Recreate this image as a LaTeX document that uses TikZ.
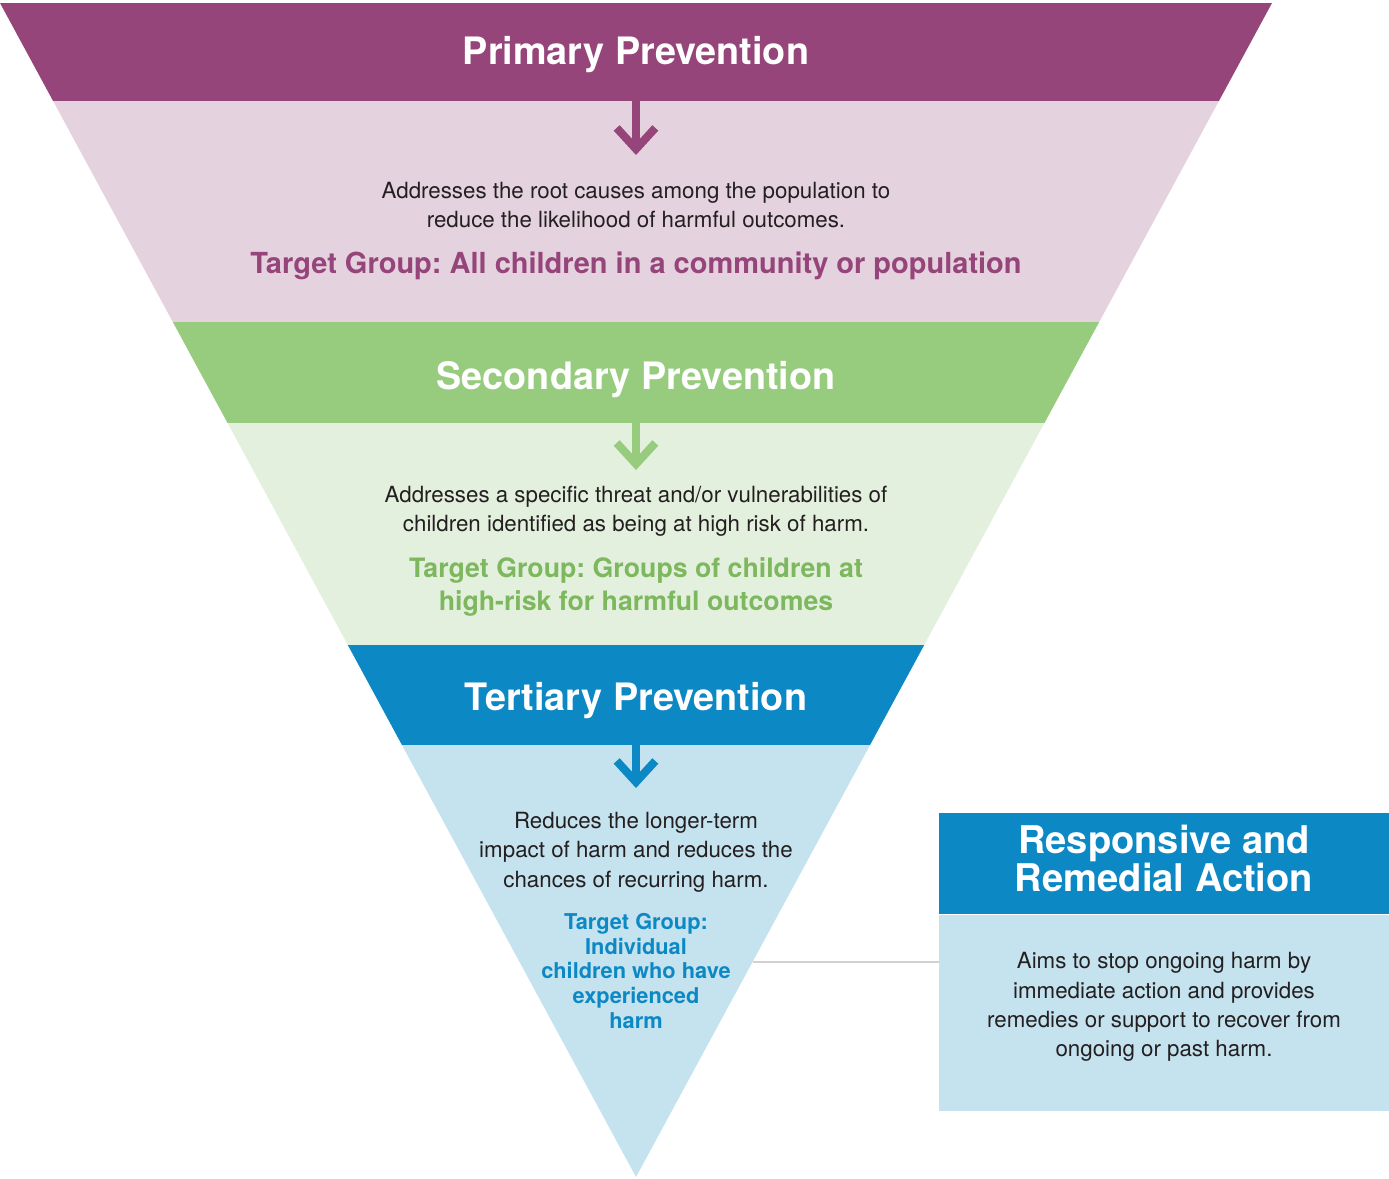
\documentclass[tikz,border=0pt]{standalone}
\usepackage{fontspec}
\setmainfont{TeX Gyre Heros}
\usetikzlibrary{positioning,arrows.meta}
\definecolor{primdark}{HTML}{96457A}
\definecolor{primlight}{HTML}{E5D2DF}
\definecolor{secdark}{HTML}{97CC7F}
\definecolor{seclight}{HTML}{E4F0DE}
\definecolor{secgroup}{HTML}{7DB75E}
\definecolor{tertdark}{HTML}{0C88C4}
\definecolor{tertlight}{HTML}{C5E2EF}
\definecolor{bodygray}{HTML}{231F20}
\frenchspacing
\begin{document}
\begin{tikzpicture}[x=0.02cm,y=-0.02cm]
\tikzstyle{headtext}=[text=white,font=\fontsize{21.5}{22}\selectfont\bfseries,inner sep=0pt]
\tikzstyle{bodytext}=[text=bodygray,font=\fontsize{12.7}{16.7}\selectfont,align=center,inner sep=0pt]
\tikzstyle{grouptext}=[font=\fontsize{16.5}{18.7}\selectfont\bfseries,align=center,inner sep=0pt]
\tikzstyle{smallgroup}=[font=\fontsize{12.4}{14.2}\selectfont\bfseries,align=center,inner sep=0pt]
\tikzstyle{downarrow}=[line width=4.6pt,-{Straight Barb[length=12pt,width=22pt]}]
\tikzstyle{linkline}=[draw=black!18,line width=0.6pt]
\tikzstyle{respbox}=[fill=tertdark,text=white,minimum width=9cm,minimum height=2.02cm,align=center,inner sep=0pt,text depth=6pt,font=\fontsize{21.7}{21.5}\selectfont\bfseries]
\tikzstyle{respbodybox}=[fill=tertlight,text=bodygray,minimum width=9cm,minimum height=3.92cm,align=center,inner sep=0pt,text depth=9pt,font=\fontsize{12.7}{16.7}\selectfont]
\useasboundingbox (0,0) rectangle (1389,1178);

% the inverted triangle, cut into bands
\begin{scope}
\clip (0,3) -- (1272,3) -- (636,1177) -- cycle;
\fill[primdark] (0,3) rectangle (1272,101);
\fill[primlight] (0,101) rectangle (1272,322);
\fill[secdark] (0,322) rectangle (1272,423);
\fill[seclight] (0,423) rectangle (1272,645);
\fill[tertdark] (0,645) rectangle (1272,745);
\fill[tertlight] (0,745) rectangle (1272,1177);
\end{scope}

% primary
\path (636,55) node[headtext](prim){Primary Prevention};
\coordinate (primtop) at (636,101);
\coordinate (primtip) at (636,155);
\draw[downarrow,primdark] (primtop) -- (primtip);
\path (636,205) node[bodytext](primbody){Addresses the root causes among the population to\\reduce the likelihood of harmful outcomes.};
\path (636,266) node[grouptext,text=primdark](primgroup){Target Group: All children in a community or population};

% secondary
\path (636,380) node[headtext](sec){Secondary Prevention};
\coordinate (sectop) at (636,423);
\coordinate (sectip) at (636,470);
\draw[downarrow,secdark] (sectop) -- (sectip);
\path (636,511) node[bodytext](secbody){Addresses a specific threat and/or vulnerabilities of\\children identified as being at high risk of harm.};
\path (636,587) node[grouptext,text=secgroup,font=\fontsize{15.2}{18.7}\selectfont\bfseries](secgroup){Target Group: Groups of children at\\high-risk for harmful outcomes};

% tertiary
\path (636,701) node[headtext](tert){Tertiary Prevention};
\coordinate (terttop) at (636,745);
\coordinate (terttip) at (636,788);
\draw[downarrow,tertdark] (terttop) -- (terttip);
\path (636,852) node[bodytext](tertbody){Reduces the longer-term\\impact of harm and reduces the\\chances of recurring harm.};
\path (636,971) node[smallgroup,text=tertdark](tertgroup){Target Group:\\Individual\\children who have\\experienced\\harm};

% responsive and remedial action
\node[respbox] (resp) at (1164,863.5) {Responsive and\\Remedial Action};
\node[respbodybox,below=0pt of resp] (respbody) {Aims to stop ongoing harm by\\immediate action and provides\\remedies or support to recover from\\ongoing or past harm.};
\coordinate (tertedge) at (752.5,962);
\draw[linkline] (tertedge) -- (tertedge -| respbody.west);
\end{tikzpicture}
\end{document}
